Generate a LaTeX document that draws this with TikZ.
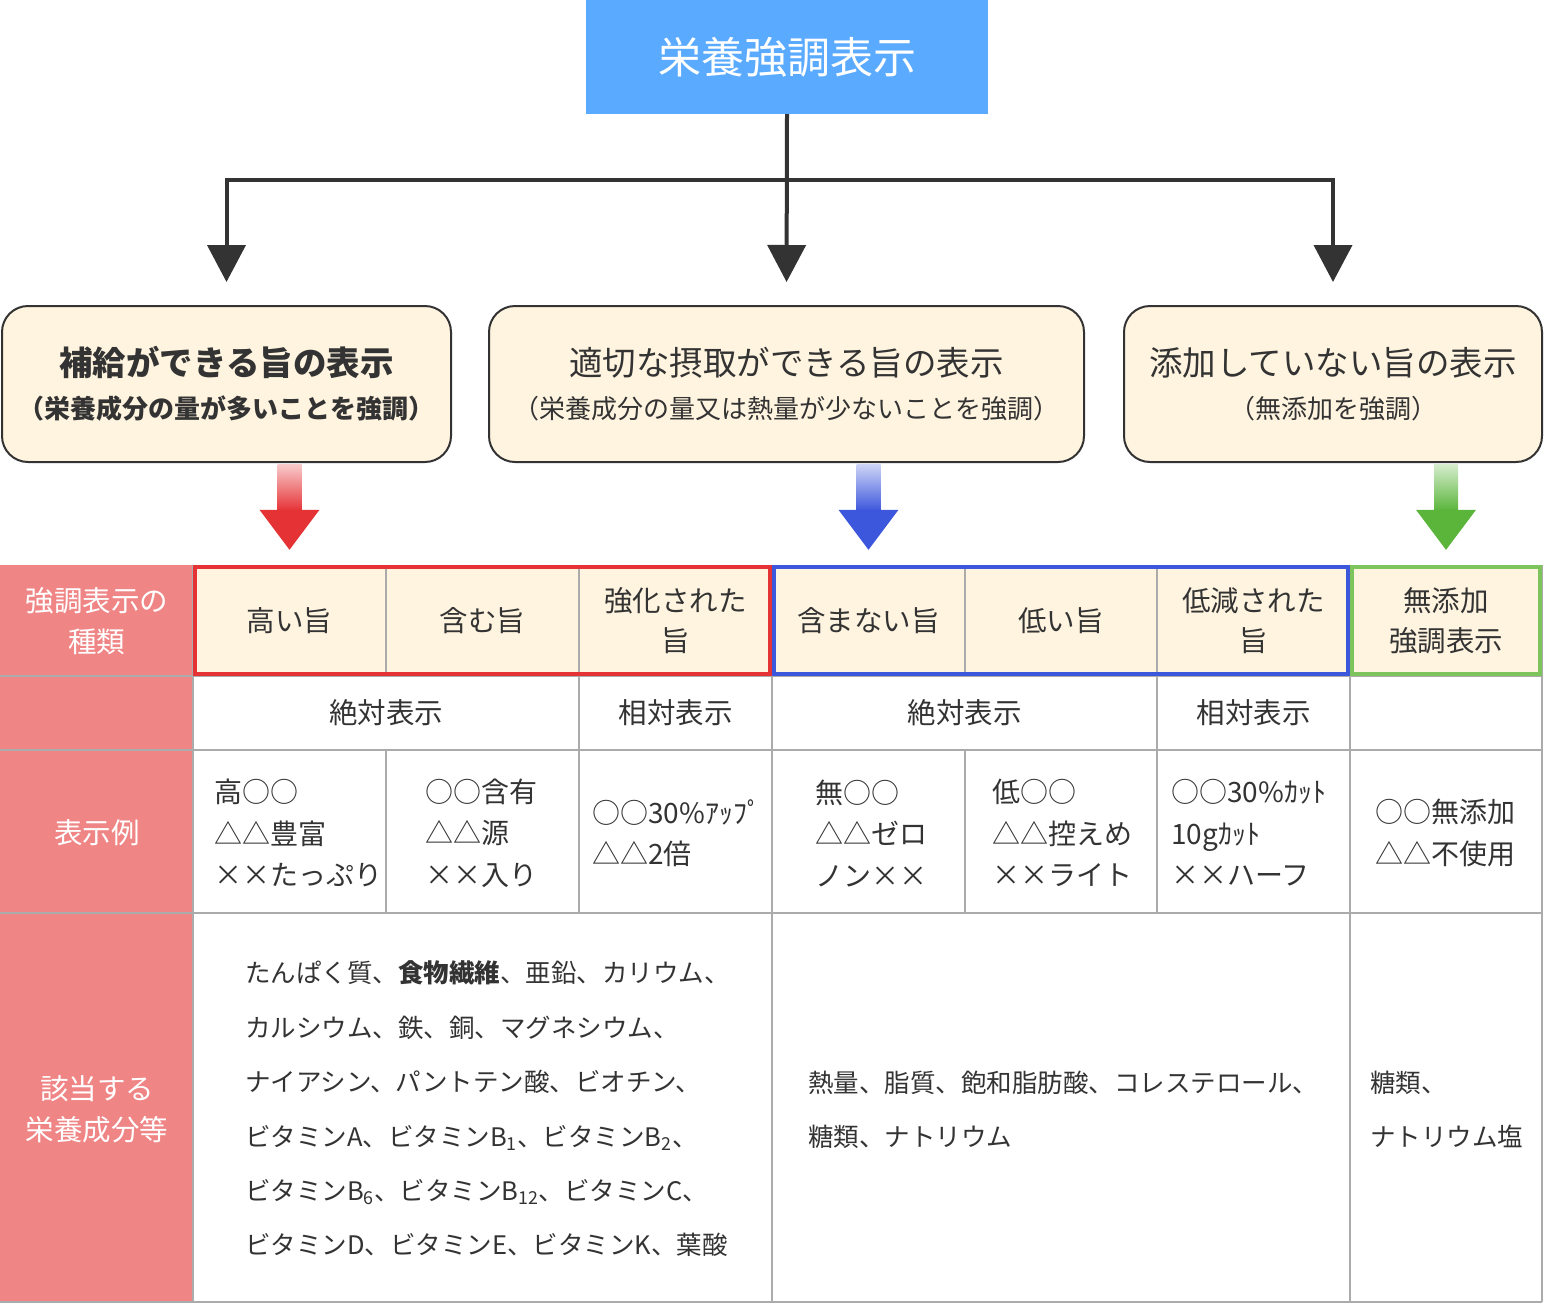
\documentclass[tikz,border=0pt]{standalone}
\usepackage{fontspec}
\setmainfont{Noto Sans CJK JP}
\usetikzlibrary{arrows.meta,positioning,calc,shapes}
\definecolor{titleblue}{HTML}{5AAAFF}
\definecolor{cream}{HTML}{FFF4E0}
\definecolor{darkline}{HTML}{333333}
\definecolor{gridgray}{HTML}{ABABAB}
\definecolor{pinkhead}{HTML}{F08585}
\definecolor{redgrp}{HTML}{E53235}
\definecolor{bluegrp}{HTML}{3D57DC}
\definecolor{greengrp}{HTML}{7DC45C}
\definecolor{greenarrow}{HTML}{5AB53A}
\tikzstyle{titlebox} = [rectangle, fill=titleblue, text=white, minimum width=402pt, minimum height=114pt, font=\fontsize{43}{50}\selectfont]
\tikzstyle{groupbox} = [rectangle, draw=darkline, line width=2pt, fill=cream, rounded corners=26pt, minimum height=156pt, text=darkline, align=center, font=\fontsize{33.5}{43}\selectfont]
\tikzstyle{link} = [draw=darkline, line width=4pt, -{Triangle[width=38pt,length=37pt]}, shorten >=23pt]
\tikzstyle{kind} = [minimum width=193pt, minimum height=111pt, inner sep=0pt, align=center, text=darkline, font=\fontsize{28.5}{40}\selectfont]
\tikzstyle{sidehead} = [inner sep=0pt, align=center, text=white, font=\fontsize{28.5}{41}\selectfont]
\tikzstyle{absrel} = [inner sep=0pt, text=darkline, font=\fontsize{28.5}{34}\selectfont]
\tikzstyle{sample} = [anchor=west, inner sep=0pt, align=left, text=darkline, font=\fontsize{28}{41.5}\selectfont]
\tikzstyle{nutri} = [anchor=west, inner sep=0pt, align=left, text=darkline, font=\fontsize{25.5}{54.4}\selectfont]
\tikzstyle{tabline} = [draw=gridgray, line width=2pt]
\begin{document}
\begin{tikzpicture}[x=1pt, y=-1pt]
\useasboundingbox (0,0) rectangle (1544,1304);
% top of the tree
\node [titlebox] (title) at (787,57) {栄養強調表示};
\node [groupbox, minimum width=449pt] (supply) at (226.5,384) {\textbf{補給ができる旨の表示}\\{\fontsize{26}{43}\selectfont\textbf{（栄養成分の量が多いことを強調）}}};
\node [groupbox, minimum width=595pt] (middle) at (786.5,384) {適切な摂取ができる旨の表示\\{\fontsize{26}{43}\selectfont （栄養成分の量又は熱量が少ないことを強調）}};
\node [groupbox, minimum width=418pt] (noadd) at (1333,384) {添加していない旨の表示\\{\fontsize{26}{43}\selectfont （無添加を強調）}};
\coordinate (split) at (787,180);
\draw [link] (title.south) -- (middle.north);
\draw [link] (split) -| (supply.north);
\draw [link] (split) -| (noadd.north);
% table
\fill [pinkhead] (0,565) rectangle (193,1302);
\fill [cream] (193,565) rectangle (1542,676);
\foreach \y in {676,750,913,1302} \draw [tabline] (0,\y) -- (1542,\y);
\draw [tabline] (193,565) -- (193,1302);
\draw [tabline] (1542,565) -- (1542,1302);
\foreach \x in {386,579,965,1157} \draw [tabline] (\x,565) -- (\x,676);
\foreach \x in {579,772,1157,1350} \draw [tabline] (\x,676) -- (\x,750);
\foreach \x in {386,579,772,965,1157,1350} \draw [tabline] (\x,750) -- (\x,913);
\foreach \x in {772,1350} \draw [tabline] (\x,913) -- (\x,1302);
\draw [redgrp, line width=4pt] (195,567) rectangle (770,674);
\draw [bluegrp, line width=4pt] (774,567) rectangle (1348,674);
\draw [greengrp, line width=4pt] (1352,567) rectangle (1540,674);
\node [sidehead] (kindhead) at (97,621) {強調表示の\\種類};
\node [sidehead] (samplehead) at (97,833) {表示例};
\node [sidehead] (nutrihead) at (97,1109) {該当する\\栄養成分等};
\node [kind] (high) at (289.5,620.5) {高い旨};
\node [kind] (contain) at (482.5,620.5) {含む旨};
\node [kind] (enrich) at (675.5,620.5) {強化された\\旨};
\node [kind] (nocontain) at (868.5,620.5) {含まない旨};
\node [kind] (low) at (1061,620.5) {低い旨};
\node [kind] (reduce) at (1253.5,620.5) {低減された\\旨};
\node [kind] (noaddcell) at (1446,620.5) {無添加\\強調表示};
\node [absrel] (absa) at (386,713) {絶対表示};
\node [absrel] (rela) at (675.5,713) {相対表示};
\node [absrel] (absb) at (964.5,713) {絶対表示};
\node [absrel] (relb) at (1253.5,713) {相対表示};
\node [sample] (exhigh) at (214,833) {高○○\\△△豊富\\××たっぷり};
\node [sample] (excontain) at (425,833) {○○含有\\△△源\\××入り};
\node [sample] (exenrich) at (592,833) {○○30\%ｱｯﾌﾟ\\△△2倍};
\node [sample] (exnocontain) at (815,833) {無○○\\△△ゼロ\\ノン××};
\node [sample] (exlow) at (992,833) {低○○\\△△控えめ\\××ライト};
\node [sample] (exreduce) at (1171,833) {○○30\%ｶｯﾄ\\10gｶｯﾄ\\××ハーフ};
\node [sample] (exnoadd) at (1375,833) {○○無添加\\△△不使用};
\node [nutri] (nutrimore) at (245,1109) {たんぱく質、\textbf{食物繊維}、亜鉛、カリウム、\\カルシウム、鉄、銅、マグネシウム、\\ナイアシン、パントテン酸、ビオチン、\\ビタミンA、ビタミンB\textsubscript{1}、ビタミンB\textsubscript{2}、\\ビタミンB\textsubscript{6}、ビタミンB\textsubscript{12}、ビタミンC、\\ビタミンD、ビタミンE、ビタミンK、葉酸};
\node [nutri] (nutriless) at (808,1109.5) {熱量、脂質、飽和脂肪酸、コレステロール、\\糖類、ナトリウム};
\node [nutri] (nutrinoadd) at (1370,1109.5) {糖類、\\ナトリウム塩};
% coloured arrows down to the table
\coordinate (redtop) at (supply.south -| high.north);
\coordinate (redtip) at ($(high.north)+(0,-15)$);
\shade [top color=redgrp!25, bottom color=redgrp] ($(redtop)+(-12,1)$) rectangle ($(redtip)+(12,-39)$);
\fill [redgrp] ($(redtip)+(-30,-40)$) -- ($(redtip)+(30,-40)$) -- (redtip) -- cycle;
\coordinate (bluetop) at (middle.south -| nocontain.north);
\coordinate (bluetip) at ($(nocontain.north)+(0,-15)$);
\shade [top color=bluegrp!25, bottom color=bluegrp] ($(bluetop)+(-12,1)$) rectangle ($(bluetip)+(12,-39)$);
\fill [bluegrp] ($(bluetip)+(-30,-40)$) -- ($(bluetip)+(30,-40)$) -- (bluetip) -- cycle;
\coordinate (greentop) at (noadd.south -| noaddcell.north);
\coordinate (greentip) at ($(noaddcell.north)+(0,-15)$);
\shade [top color=greenarrow!25, bottom color=greenarrow] ($(greentop)+(-12,1)$) rectangle ($(greentip)+(12,-39)$);
\fill [greenarrow] ($(greentip)+(-30,-40)$) -- ($(greentip)+(30,-40)$) -- (greentip) -- cycle;
\end{tikzpicture}
\end{document}
